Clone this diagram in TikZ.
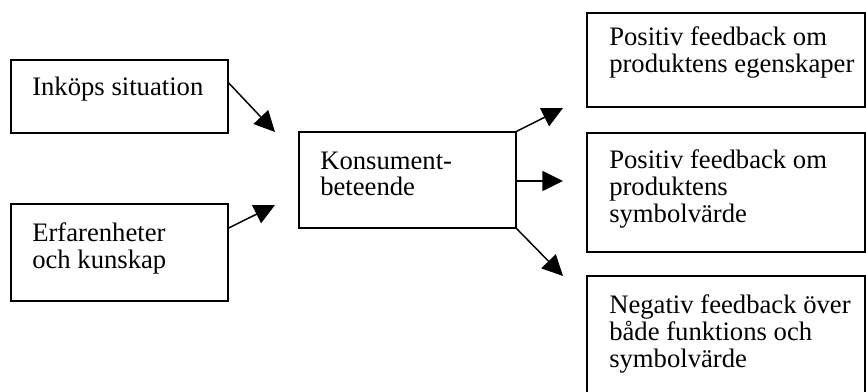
\documentclass[tikz,border=0pt]{standalone}
\usepackage{fontspec}
\setmainfont{Liberation Serif}
\usetikzlibrary{arrows.meta,fit}
\newcommand\mytxt[1]{\parbox[t]{12cm}{\raggedright #1}}
\begin{document}
\begin{tikzpicture}[x=0.75pt,y=-0.75pt,
  box/.style={draw, line width=1.1pt, inner sep=0pt, rectangle},
  txt/.style={anchor=base west, inner sep=0pt, font=\fontsize{20}{20.25}\selectfont},
  arr/.style={line width=1.1pt, -{Triangle[length=15.5pt,width=15pt]}}]
\useasboundingbox (0,0) rectangle (866,392);
\clip (0,0) rectangle (866,392);
% boxes
\node[box, fit={(11,60) (228,133)}] (a) {};
\node[box, fit={(11,204) (228,301)}] (b) {};
\node[box, fit={(299,132) (516,228)}] (c) {};
\node[box, fit={(587,13) (865,107)}] (d) {};
\node[box, fit={(587,133) (865,252)}] (e) {};
\node[box, fit={(587,276) (865,420)}] (f) {};
% texts
\node[txt] (ta) at (32,96) {\mytxt{Inköps situation}};
\node[txt] (tb) at (32,241) {\mytxt{Erfarenheter\\och kunskap}};
\node[txt] (tc) at (320,169) {\mytxt{Konsument-\\beteende}};
\node[txt] (td) at (609,46) {\mytxt{Positiv feedback om\\produktens egenskaper}};
\node[txt] (te) at (609,168) {\mytxt{Positiv feedback om\\produktens\\symbolvärde}};
\node[txt] (tf) at (609,313) {\mytxt{Negativ feedback över\\både funktions och\\symbolvärde}};
% arrow ends
\coordinate (pa) at (275,132);
\coordinate (pb) at (275,205);
\coordinate (pd) at (563,108);
\coordinate (pe) at (563,181);
\coordinate (pf) at (563,276);
% arrows
\draw[arr] (a.east |- 0,83) -- (pa);
\draw[arr] (b.east |- 0,228) -- (pb);
\draw[arr] (c.north east) -- (pd);
\draw[arr] (c.east |- pe) -- (pe);
\draw[arr] (c.south east) -- (pf);
\end{tikzpicture}
\end{document}
